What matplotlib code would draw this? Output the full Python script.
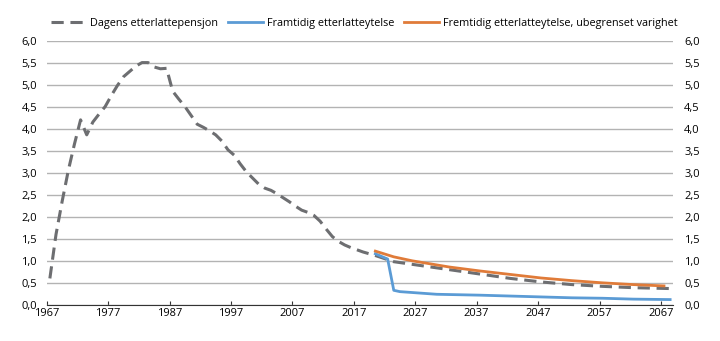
import matplotlib.pyplot as plt
from matplotlib.ticker import FuncFormatter

# Dagens etterlattepensjon (historikk og framskriving)
dagens_aar = list(range(1967, 2021)) + [2023, 2027, 2031, 2037, 2042, 2047,
                                        2052, 2057, 2062, 2068]
dagens_verdi = [0.6, 1.6, 2.35, 3.05, 3.65, 4.2, 3.86, 4.15, 4.33, 4.5,
                4.75, 4.98, 5.18, 5.3, 5.42, 5.5, 5.5, 5.4, 5.36, 5.37,
                4.85, 4.67, 4.5, 4.3, 4.1, 4.03, 3.95, 3.86, 3.72, 3.52,
                3.4, 3.2, 3.02, 2.88, 2.74, 2.65, 2.6, 2.52, 2.43, 2.34,
                2.24, 2.15, 2.1, 2.03, 1.9, 1.72, 1.55, 1.44, 1.36, 1.3,
                1.25, 1.2, 1.16, 1.12,
                0.98, 0.9, 0.82, 0.7, 0.6, 0.52, 0.46, 0.42, 0.39, 0.37]

# Framtidig etterlatteytelse
framtidig_aar = [2020, 2021, 2022, 2023, 2024, 2027, 2030, 2037, 2042, 2047,
                 2052, 2057, 2062, 2068]
framtidig_verdi = [1.16, 1.1, 1.04, 0.33, 0.3, 0.27, 0.24, 0.22, 0.2, 0.18,
                   0.16, 0.15, 0.13, 0.12]

# Fremtidig etterlatteytelse, ubegrenset varighet
ubegrenset_aar = [2020, 2023, 2026, 2032, 2037, 2042, 2047, 2052, 2057, 2062, 2067]
ubegrenset_verdi = [1.22, 1.09, 1.0, 0.86, 0.77, 0.69, 0.61, 0.55, 0.5, 0.46, 0.43]

x_labels = list(range(1967, 2068, 10))
y_ticks = [0.0, 0.5, 1.0, 1.5, 2.0, 2.5, 3.0, 3.5, 4.0, 4.5, 5.0, 5.5, 6.0]

plt.rcParams['font.family'] = ['Open Sans', 'DejaVu Sans']

fig = plt.figure(figsize=(7.2, 3.41), dpi=100)
ax = fig.add_axes([0.065, 0.106, 0.87, 0.775])

ax.plot(dagens_aar, dagens_verdi, color='#6d6e71', lw=2.2, dashes=(4, 2.2),
        label='Dagens etterlattepensjon')
ax.plot(framtidig_aar, framtidig_verdi, color='#5b9bd5', lw=2,
        label='Framtidig etterlatteytelse')
ax.plot(ubegrenset_aar, ubegrenset_verdi, color='#e07b39', lw=2,
        label='Fremtidig etterlatteytelse, ubegrenset varighet')

# kategoriakse: merkene står mellom årene, slik som i Excel
ax.set_xlim(1966.5, 2068.5)
ax.set_xticks([a - 0.5 for a in x_labels], labels=[str(a) for a in x_labels])
ax.set_ylim(0, 6)
ax.set_yticks(y_ticks)
fmt = FuncFormatter(lambda v, p: f'{v:.1f}'.replace('.', ','))
ax.yaxis.set_major_formatter(fmt)
ax.grid(axis='y', color='#b3b3b3', lw=1)
ax.set_axisbelow(True)
for s in ['top', 'left', 'right']:
    ax.spines[s].set_visible(False)
ax.spines['bottom'].set_color('#333333')
ax.tick_params(axis='x', direction='in', length=3, color='#333333',
               labelsize=8, pad=2)
ax.tick_params(axis='y', length=0, labelsize=8, pad=7)

ax2 = ax.twinx()
ax2.set_ylim(0, 6)
ax2.set_yticks(y_ticks)
ax2.yaxis.set_major_formatter(fmt)
ax2.tick_params(axis='y', length=0, labelsize=8, pad=8)
for s in ['top', 'left', 'right', 'bottom']:
    ax2.spines[s].set_visible(False)

ax.legend(loc='lower left', bbox_to_anchor=(-0.005, 1.015), ncol=3, frameon=False,
          fontsize=7.8, handlelength=3.2, handletextpad=0.4, columnspacing=0.9,
          borderaxespad=0.3)

fig.savefig('out.png', dpi=100)
